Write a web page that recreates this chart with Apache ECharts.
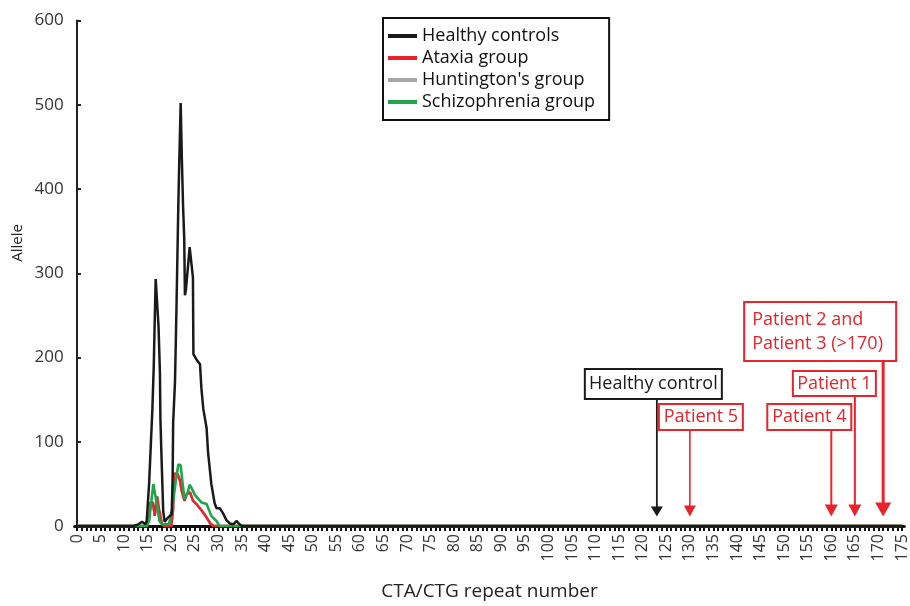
<!DOCTYPE html>
<html><head><meta charset="utf-8">
<script src="https://cdn.jsdelivr.net/npm/echarts@6/dist/echarts.min.js"></script>
<style>html,body{margin:0;padding:0;background:#fff;overflow:hidden}#c{width:910px;height:606px}</style>
</head><body><div id="c"></div>
<script>
// ---- data ----
var xCategories = Array.from({length: 176}, function (_, i) { return String(i); });
var seriesNames = ['Healthy controls', 'Ataxia group', "Huntington's group", 'Schizophrenia group'];
var healthy = [[0,0],[12,0],[13,2],[13.8,5],[14.5,2],[14.8,6],[15.3,50],[15.6,88],[16.0,139],[16.3,192],[16.5,245],[16.7,293],[17.0,293],[17.3,237],[17.6,182],[17.7,128],[17.9,88],[18.3,17],[18.6,5],[19.3,10],[20.1,14],[20.3,60],[20.4,122],[20.8,172],[21.1,256],[21.5,381],[21.7,432],[22.0,502],[22.25,436],[22.5,381],[22.75,342],[22.9,274],[23.1,280],[23.6,311],[23.9,331],[24.3,331],[24.6,295],[24.7,204],[25.0,204],[25.3,198],[26.1,192],[26.4,163],[26.8,139],[27.5,116],[27.8,88],[28.5,50],[29.2,27],[29.6,21],[30.3,21],[31.0,15],[31.7,7],[32.4,3],[33.2,2],[33.8,6],[34.5,2],[35,0],[175,0]];
var ataxia = [[0,0],[14.8,0],[15.3,8],[15.6,28],[16.1,28],[16.5,12],[17.0,35],[17.4,20],[18,3],[18.5,0],[20.0,0],[20.4,20],[20.6,62],[21.3,62],[21.8,55],[22.2,42],[22.8,30],[23.3,38],[24.0,40],[24.6,30],[25.5,25],[26.5,18],[27.5,10],[28.3,3],[29,0],[175,0]];
var huntington = [[0,0],[14.8,0],[15.3,8],[15.6,28],[16.1,28],[16.5,12],[17.0,35],[17.4,20],[18,3],[18.5,0],[20.0,0],[20.4,20],[20.6,62],[21.3,62],[21.8,55],[22.2,42],[22.8,30],[23.3,38],[24.0,40],[24.6,30],[25.5,25],[26.5,18],[27.5,10],[28.3,3],[29,0],[175,0]];
var schizophrenia = [[0,0],[14.8,0],[15.3,6],[15.8,30],[16.2,50],[16.6,48],[17.0,24],[17.5,6],[18.0,2],[19.5,2],[20.2,20],[20.9,51],[21.5,73],[22.0,72],[22.4,51],[22.8,32],[23.5,40],[23.9,49],[24.4,44],[25.0,37],[26.4,28],[27.5,26],[28.5,12],[29.6,6],[30.2,0],[175,0]];
var annoLabels = ['Healthy control', 'Patient 5', 'Patient 4', 'Patient 1', 'Patient 2 and\nPatient 3 (>170)'];
var annoX = [123, 130, 160, 165, 171];

// ---- styles / layout ----
var FONT = "'Open Sans', 'DejaVu Sans', sans-serif";
var RED = '#e8232b';
var colors = ['#1a1a1a', RED, '#a6a6a6', '#1fa64a'];
var annoLayout = [
  {dx: -72, w: 137, top: 157, h: 30, color: '#1a1a1a', lw: 1.8, hw: 12, hh: 10, align: 'center'},
  {dx: -31, w: 84, top: 122, h: 26, color: RED, lw: 1.6, hw: 12, hh: 11, align: 'center'},
  {dx: -64, w: 84, top: 122, h: 26, color: RED, lw: 2, hw: 13, hh: 12, align: 'center'},
  {dx: -62, w: 83, top: 155, h: 25, color: RED, lw: 2, hw: 13, hh: 12, align: 'center'},
  {dx: -139, w: 152, top: 224, h: 59, color: RED, lw: 3, hw: 16, hh: 14, align: 'left'}
];

var chart = echarts.init(document.getElementById('c'), null, {renderer: 'canvas'});

function lineSeries(name, data, color, width, z) {
  return {name: name, type: 'line', data: data, xAxisIndex: 1, yAxisIndex: 0,
    showSymbol: false, symbol: 'none', z: z, lineStyle: {color: color, width: width}, itemStyle: {color: color}, animation: false};
}

var option = {
  animation: false,
  textStyle: {fontFamily: FONT},
  grid: {left: 74.6, right: 1, top: 20.5, bottom: 75},
  legend: {
    data: seriesNames, orient: 'vertical', left: 383, top: 18,
    backgroundColor: '#fff', borderColor: '#111', borderWidth: 2,
    padding: [8, 14, 8, 5], itemGap: 2, itemWidth: 29, itemHeight: 4,
    icon: 'rect', textStyle: {fontSize: 18, color: '#111', lineHeight: 20, fontFamily: FONT}
  },
  xAxis: [
    {type: 'category', data: xCategories, boundaryGap: true, position: 'bottom',
      name: 'CTA/CTG repeat number', nameLocation: 'middle', nameGap: 56,
      nameTextStyle: {fontSize: 19, color: '#222', fontFamily: FONT},
      axisLine: {lineStyle: {color: '#111', width: 3}},
      axisTick: {show: true, interval: 0, alignWithLabel: true, length: 5, lineStyle: {color: '#111', width: 2}},
      axisLabel: {interval: 4, rotate: 90, fontSize: 16, color: '#333', margin: 8, fontFamily: FONT}},
    {type: 'value', min: -0.5, max: 175.5, show: false}
  ],
  yAxis: {type: 'value', min: 0, max: 600, interval: 100,
    axisLine: {show: true, lineStyle: {color: '#222', width: 2}},
    axisTick: {show: true, inside: true, length: 4, lineStyle: {color: '#222', width: 2}},
    splitLine: {show: false},
    axisLabel: {fontSize: 17, color: '#333', margin: 11, fontFamily: FONT}},
  graphic: [{type: 'text', left: 10, top: 224, rotation: Math.PI / 2,
    style: {text: 'Allele', font: '15px ' + FONT, fill: '#222'}}],
  series: [
    lineSeries(seriesNames[0], healthy, colors[0], 2.5, 5),
    lineSeries(seriesNames[1], ataxia, colors[1], 2.5, 3),
    lineSeries(seriesNames[2], huntington, colors[2], 2.5, 2),
    lineSeries(seriesNames[3], schizophrenia, colors[3], 2.6, 4),
    {type: 'custom', xAxisIndex: 1, yAxisIndex: 0, z: 10, animation: false, silent: true,
      data: annoX.map(function (x, i) { return [x, i]; }),
      renderItem: function (params, api) {
        var x = api.value(0), i = api.value(1);
        var L = annoLayout[i];
        var base = api.coord([x, 0]);
        var px = base[0], py0 = base[1];
        var left = px + L.dx, top = py0 - L.top;
        var tipY = py0 - 9.5;
        return {type: 'group', children: [
          {type: 'line', shape: {x1: px, y1: top + L.h, x2: px, y2: tipY - L.hh + 1},
            style: {stroke: L.color, lineWidth: L.lw}},
          {type: 'polygon', shape: {points: [[px - L.hw / 2, tipY - L.hh], [px + L.hw / 2, tipY - L.hh], [px, tipY]]},
            style: {fill: L.color}},
          {type: 'rect', shape: {x: left, y: top, width: L.w, height: L.h},
            style: {fill: '#fff', stroke: L.color, lineWidth: 2}},
          {type: 'text', style: {text: annoLabels[i], x: L.align === 'left' ? left + 8 : left + L.w / 2, y: top + L.h / 2,
            align: L.align, verticalAlign: 'middle', font: '18px ' + FONT, fill: L.color, lineHeight: 24}}
        ]};
      }}
  ]
};
chart.setOption(option);
</script></body></html>
